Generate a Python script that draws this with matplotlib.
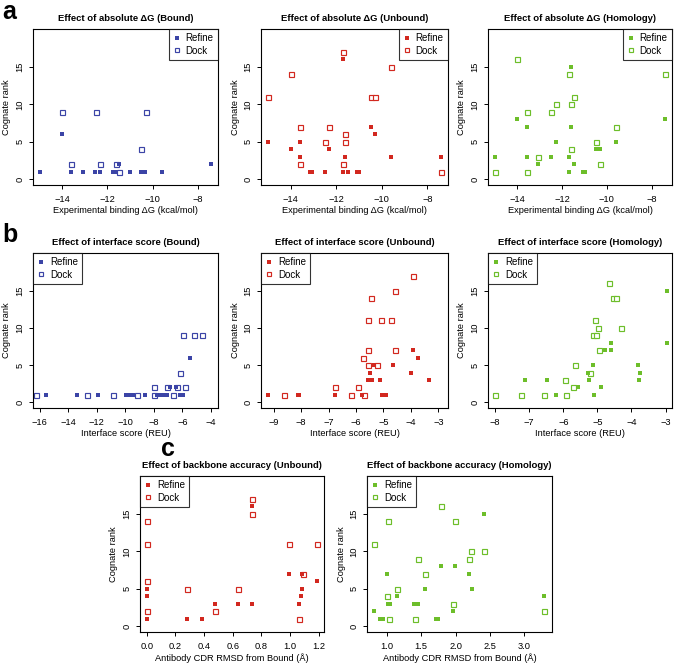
import matplotlib
matplotlib.use("Agg")
import matplotlib.pyplot as plt
from matplotlib.lines import Line2D

plt.rcParams['font.family'] = ['Liberation Sans', 'DejaVu Sans']

BLUE = "#3B44A6"
RED = "#D2281F"
GREEN = "#6DBE2A"

# ---------------- data ----------------
# a: absolute dG
a_bound_refine_x = [-15.0, -14.0, -13.63, -13.1, -12.54, -12.32, -11.77, -11.62, -11.51, -11.0, -10.5, -10.32, -9.6, -7.41]
a_bound_refine_y = [1, 6, 1, 1, 1, 1, 1, 1, 2, 1, 1, 1, 1, 2]
a_bound_dock_x = [-14.0, -12.5, -10.3, -13.63, -12.32, -11.62, -11.5, -10.5]
a_bound_dock_y = [9, 9, 9, 2, 2, 2, 1, 4]

a_unb_refine_x = [-15.0, -14.0, -13.6, -13.6, -13.15, -13.08, -12.49, -12.3, -11.7, -11.7, -11.6, -11.48, -11.07, -11.0, -10.49, -10.3, -9.6, -7.41]
a_unb_refine_y = [5, 4, 5, 3, 1, 1, 1, 4, 16, 1, 3, 1, 1, 1, 7, 6, 3, 3]
a_unb_dock_x = [-15.0, -14.0, -13.6, -13.6, -12.3, -12.49, -11.7, -11.6, -11.6, -11.7, -10.49, -10.3, -9.6, -7.41]
a_unb_dock_y = [11, 14, 7, 2, 7, 5, 17, 6, 5, 2, 11, 11, 15, 1]

a_hom_refine_x = [-15.0, -14.0, -13.57, -13.57, -13.07, -12.48, -12.29, -11.68, -11.68, -11.58, -11.58, -11.48, -11.05, -10.98, -10.5, -10.3, -9.6, -7.42]
a_hom_refine_y = [3, 8, 7, 3, 2, 3, 5, 3, 1, 15, 7, 2, 1, 1, 4, 4, 5, 8]
a_hom_dock_x = [-15.0, -14.0, -13.57, -13.57, -13.07, -12.48, -12.29, -11.68, -11.58, -11.48, -11.58, -10.5, -10.3, -9.6, -7.42]
a_hom_dock_y = [1, 16, 9, 1, 3, 9, 10, 14, 10, 11, 4, 5, 2, 7, 14]

# b: interface score
b_bound_refine_x = [-15.58, -13.36, -11.88, -9.92, -9.68, -9.45, -8.61, -7.81, -7.58, -7.34, -7.11, -6.88, -6.41, -6.18, -5.94, -5.43]
b_bound_refine_y = [1, 1, 1, 1, 1, 1, 1, 1, 1, 1, 1, 2, 2, 1, 1, 6]
b_bound_dock_x = [-16.23, -12.65, -10.85, -9.17, -8.02, -8.02, -7.06, -6.64, -6.34, -6.18, -5.94, -5.78, -5.17, -4.65]
b_bound_dock_y = [1, 1, 1, 1, 1, 2, 2, 1, 2, 4, 9, 2, 9, 9]

b_unb_refine_x = [-9.22, -8.13, -8.07, -6.76, -5.78, -5.58, -5.48, -5.40, -5.34, -5.12, -5.06, -4.96, -4.90, -4.64, -4.0, -3.91, -3.73, -3.34]
b_unb_refine_y = [1, 1, 1, 1, 1, 3, 4, 3, 5, 3, 1, 1, 1, 5, 4, 7, 6, 3]
b_unb_dock_x = [-8.64, -6.76, -6.18, -5.92, -5.75, -5.70, -5.58, -5.58, -5.55, -5.46, -5.24, -5.1, -4.73, -4.59, -4.58, -3.93]
b_unb_dock_y = [1, 2, 1, 2, 6, 1, 5, 11, 7, 14, 5, 11, 11, 15, 7, 17]

b_hom_refine_x = [-7.12, -6.47, -6.21, -5.56, -5.25, -5.27, -5.12, -5.09, -4.90, -4.78, -4.60, -4.60, -3.82, -3.76, -3.78, -2.97, -2.96]
b_hom_refine_y = [3, 3, 1, 2, 3, 4, 5, 1, 2, 7, 7, 8, 5, 4, 3, 15, 8]
b_hom_dock_x = [-8.0, -7.24, -6.56, -5.95, -5.92, -5.73, -5.65, -5.22, -5.14, -5.05, -5.06, -4.99, -4.95, -4.65, -4.55, -4.44, -4.32]
b_hom_dock_y = [1, 1, 1, 3, 1, 2, 5, 4, 9, 9, 11, 10, 7, 16, 14, 14, 10]

# c: backbone accuracy
c_unb_refine_x = [0.0, 0.0, 0.0, 0.28, 0.385, 0.475, 0.635, 0.734, 0.732, 0.992, 1.066, 1.078, 1.085, 1.085, 1.19]
c_unb_refine_y = [1, 4, 5, 1, 1, 3, 3, 3, 16, 7, 3, 4, 5, 7, 6]
c_unb_dock_x = [0.0, 0.0, 0.0, 0.0, 0.28, 0.475, 0.635, 0.732, 0.736, 0.992, 1.066, 1.09, 1.19]
c_unb_dock_y = [14, 11, 6, 2, 5, 2, 5, 17, 15, 11, 1, 7, 11]

c_hom_refine_x = [0.815, 1.0, 1.02, 1.05, 1.15, 0.91, 0.94, 2.41, 1.79, 1.985, 2.2, 1.55, 2.24, 3.29, 1.40, 1.45, 1.96, 1.72, 1.75]
c_hom_refine_y = [2, 7, 3, 3, 4, 1, 1, 15, 8, 8, 7, 5, 5, 4, 3, 3, 2, 1, 1]
c_hom_dock_x = [0.82, 1.02, 1.0, 1.04, 1.15, 1.79, 1.985, 2.23, 2.41, 1.45, 2.2, 1.55, 1.96, 3.29, 1.41]
c_hom_dock_y = [11, 14, 4, 1, 5, 16, 14, 10, 10, 9, 9, 7, 3, 2, 1]

# ---------------- layout ----------------
W, H = 675, 668
fig = plt.figure(figsize=(W / 100, H / 100), dpi=100)

FS = 6.7
YLIM = (-0.77, 20.07)


def make_ax(l, r, t, b):
    return fig.add_axes([l / W, 1 - b / H, (r - l) / W, (b - t) / H])


def panel(ax, rx, ry, dx, dy, color, title, xlabel, xlim, xticks, xticklabels, legloc):
    ax.plot(dx, dy, linestyle='none', marker='s', ms=3.6, mfc='white', mec=color, mew=0.85)
    ax.plot(rx, ry, linestyle='none', marker='s', ms=3.4, mfc=color, mec=color, mew=0)
    ax.set_xlim(*xlim)
    ax.set_ylim(*YLIM)
    ax.set_xticks(xticks)
    ax.set_xticklabels(xticklabels)
    ax.set_yticks([0, 5, 10, 15])
    ax.set_yticklabels(['0', '5', '10', '15'], rotation=90, va='center')
    ax.tick_params(axis='both', direction='out', length=3, width=0.7, labelsize=FS, colors='black')
    ax.tick_params(axis='x', pad=4)
    ax.tick_params(axis='y', pad=3)
    for s in ax.spines.values():
        s.set_linewidth(0.8)
    ax.set_title(title, fontsize=6.8, fontweight='bold', pad=6)
    ax.set_xlabel(xlabel, fontsize=FS, labelpad=2)
    ax.set_ylabel('Cognate rank', fontsize=FS, labelpad=3)
    handles = [
        Line2D([], [], linestyle='none', marker='s', ms=3.2, mfc=color, mec=color, mew=0),
        Line2D([], [], linestyle='none', marker='s', ms=3.5, mfc='white', mec=color, mew=0.85),
    ]
    leg = ax.legend(handles, ['Refine', 'Dock'], loc=legloc, fontsize=7, frameon=True,
                    fancybox=False, borderaxespad=0, handlelength=0.8, handletextpad=0.5,
                    borderpad=0.45, labelspacing=0.25)
    leg.get_frame().set_edgecolor('black')
    leg.get_frame().set_linewidth(0.8)


cols = [(33, 218), (261, 448), (488, 672)]
rowa = (29, 185)
rowb = (253, 408)
rowc = (476, 632)

a_ticks = [-14, -12, -10, -8]
a_lbl = ['\u221214', '\u221212', '\u221210', '\u22128']
a_xlim = (-15.3, -7.1)
a_xlabel = 'Experimental binding \u0394G (kcal/mol)'

ax = make_ax(cols[0][0], cols[0][1], *rowa)
panel(ax, a_bound_refine_x, a_bound_refine_y, a_bound_dock_x, a_bound_dock_y, BLUE,
      'Effect of absolute \u0394G (Bound)', a_xlabel, a_xlim, a_ticks, a_lbl, 'upper right')
ax = make_ax(cols[1][0], cols[1][1], *rowa)
panel(ax, a_unb_refine_x, a_unb_refine_y, a_unb_dock_x, a_unb_dock_y, RED,
      'Effect of absolute \u0394G (Unbound)', a_xlabel, a_xlim, a_ticks, a_lbl, 'upper right')
ax = make_ax(cols[2][0], cols[2][1], *rowa)
panel(ax, a_hom_refine_x, a_hom_refine_y, a_hom_dock_x, a_hom_dock_y, GREEN,
      'Effect of absolute \u0394G (Homology)', a_xlabel, a_xlim, a_ticks, a_lbl, 'upper right')

b_xlabel = 'Interface score (REU)'


def mlabels(vals):
    return [('\u2212' + str(-v)) if v < 0 else str(v) for v in vals]


t1 = [-16, -14, -12, -10, -8, -6, -4]
ax = make_ax(cols[0][0], cols[0][1], *rowb)
panel(ax, b_bound_refine_x, b_bound_refine_y, b_bound_dock_x, b_bound_dock_y, BLUE,
      'Effect of interface score (Bound)', b_xlabel, (-16.47, -3.5), t1, mlabels(t1), 'upper left')
t2 = [-9, -8, -7, -6, -5, -4, -3]
ax = make_ax(cols[1][0], cols[1][1], *rowb)
panel(ax, b_unb_refine_x, b_unb_refine_y, b_unb_dock_x, b_unb_dock_y, RED,
      'Effect of interface score (Unbound)', b_xlabel, (-9.46, -2.65), t2, mlabels(t2), 'upper left')
t3 = [-8, -7, -6, -5, -4, -3]
ax = make_ax(cols[2][0], cols[2][1], *rowb)
panel(ax, b_hom_refine_x, b_hom_refine_y, b_hom_dock_x, b_hom_dock_y, GREEN,
      'Effect of interface score (Homology)', b_xlabel, (-8.21, -2.81), t3, mlabels(t3), 'upper left')

c_xlabel = 'Antibody CDR RMSD from Bound (\u00c5)'
tc1 = [0.0, 0.2, 0.4, 0.6, 0.8, 1.0, 1.2]
ax = make_ax(140, 324, *rowc)
panel(ax, c_unb_refine_x, c_unb_refine_y, c_unb_dock_x, c_unb_dock_y, RED,
      'Effect of backbone accuracy (Unbound)', c_xlabel, (-0.048, 1.238), tc1,
      ['%.1f' % v for v in tc1], 'upper left')
tc2 = [1.0, 1.5, 2.0, 2.5, 3.0]
ax = make_ax(367, 552, *rowc)
panel(ax, c_hom_refine_x, c_hom_refine_y, c_hom_dock_x, c_hom_dock_y, GREEN,
      'Effect of backbone accuracy (Homology)', c_xlabel, (0.714, 3.40), tc2,
      ['%.1f' % v for v in tc2], 'upper left')

fig.text(2 / W, 1 - 19 / H, 'a', fontsize=18, fontweight='bold', ha='left', va='baseline')
fig.text(2 / W, 1 - 242 / H, 'b', fontsize=18, fontweight='bold', ha='left', va='baseline')
fig.text(161 / W, 1 - 456 / H, 'c', fontsize=18, fontweight='bold', ha='left', va='baseline')

fig.savefig('out.png', dpi=100)
